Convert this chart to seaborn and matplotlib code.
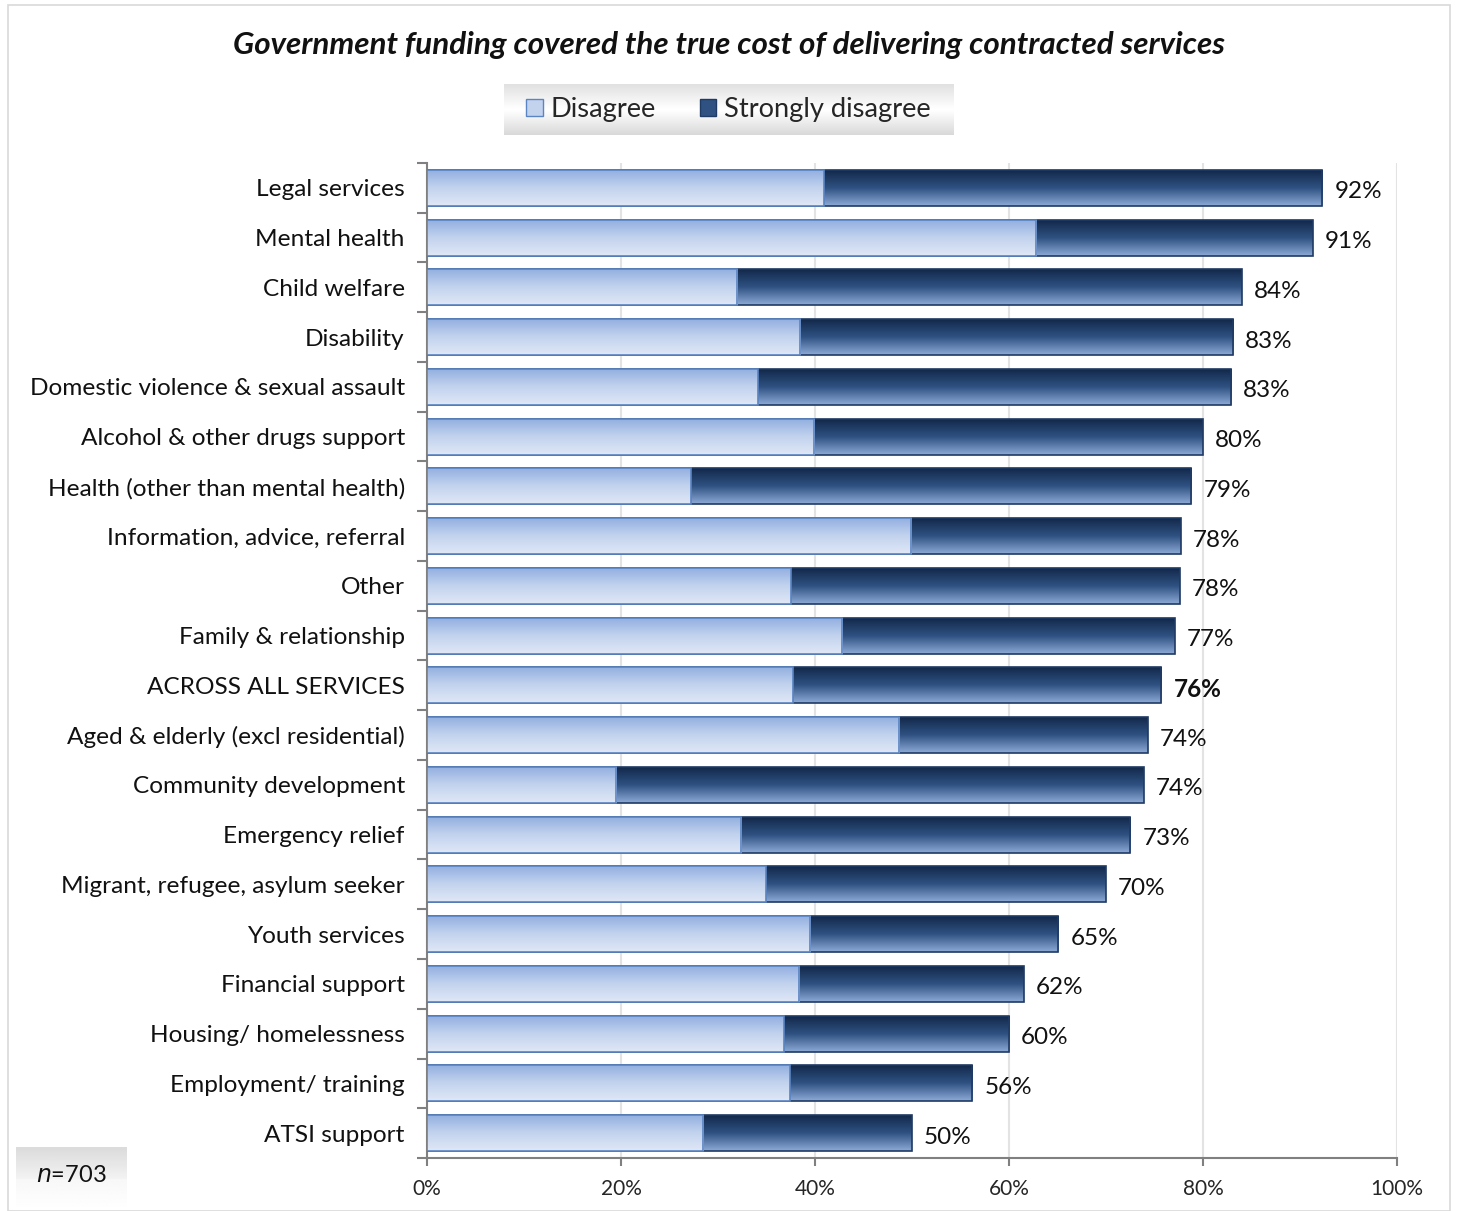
import numpy as np
import pandas as pd
import matplotlib
matplotlib.use("Agg")
import matplotlib.pyplot as plt
import seaborn as sns
from matplotlib.patches import Rectangle, Patch
from matplotlib.colors import LinearSegmentedColormap

categories = [
    "Legal services", "Mental health", "Child welfare", "Disability",
    "Domestic violence & sexual assault", "Alcohol & other drugs support",
    "Health (other than mental health)", "Information, advice, referral",
    "Other", "Family & relationship", "ACROSS ALL SERVICES",
    "Aged & elderly (excl residential)", "Community development",
    "Emergency relief", "Migrant, refugee, asylum seeker", "Youth services",
    "Financial support", "Housing/ homelessness", "Employment/ training",
    "ATSI support",
]
disagree = [40.9, 62.8, 32.0, 38.5, 34.1, 39.9, 27.2, 49.9, 37.5, 42.8,
            37.7, 48.7, 19.5, 32.4, 34.9, 39.5, 38.4, 36.8, 37.4, 28.5]
total = [92.3, 91.3, 84.0, 83.1, 82.9, 80.0, 78.8, 77.7, 77.6, 77.1,
         75.7, 74.3, 73.9, 72.5, 70.0, 65.1, 61.5, 60.0, 56.2, 50.0]
total_labels = ["92%", "91%", "84%", "83%", "83%", "80%", "79%", "78%", "78%",
                "77%", "76%", "74%", "74%", "73%", "70%", "65%", "62%", "60%",
                "56%", "50%"]
x_ticks = [0, 20, 40, 60, 80, 100]
x_tick_labels = ["0%", "20%", "40%", "60%", "80%", "100%"]
title = "Government funding covered the true cost of delivering contracted services"
legend_labels = ["Disagree", "Strongly disagree"]
note = "703"

df = pd.DataFrame({"cat": categories, "disagree": disagree, "total": total})

sns.set_theme(style="white")
plt.rcParams["font.family"] = ["Lato", "DejaVu Sans"]

W, H = 1458, 1211
fig = plt.figure(figsize=(W / 100, H / 100), dpi=100)
ax = fig.add_axes([427 / W, 1 - 1158 / H, (1397 - 427) / W, (1158 - 163) / H])

dis_cmap = LinearSegmentedColormap.from_list("dis", ["#93b0e0", "#c3d3ee", "#e0e8f6"])
str_cmap = LinearSegmentedColormap.from_list("str", ["#13284a", "#2f5283", "#8eaad6"])

sns.barplot(data=df, y="cat", x="total", color="#2f5283", width=0.72,
            edgecolor="#1f3a64", linewidth=1.2, ax=ax, zorder=3, saturation=1)
n_str = len(ax.patches)
sns.barplot(data=df, y="cat", x="disagree", color="#c3d3ee", width=0.72,
            edgecolor="#5a84c2", linewidth=1.2, ax=ax, zorder=5, saturation=1)

grad = np.linspace(0, 1, 256).reshape(-1, 1)
for i, p in enumerate(ax.patches):
    x0, y0 = p.get_x(), p.get_y()
    w, h = p.get_width(), p.get_height()
    cmap = str_cmap if i < n_str else dis_cmap
    z = 2.9 if i < n_str else 4.9
    ax.imshow(grad, cmap=cmap, aspect="auto", extent=[x0, x0 + w, y0 + h, y0],
              origin="upper", zorder=z, interpolation="bilinear")
    p.set_facecolor("none")

ax.set_xlim(0, 100)
ax.set_ylim(len(categories) - 0.5, -0.5)
ax.set_xticks(x_ticks)
ax.set_xticklabels(x_tick_labels, fontsize=15)
ax.set_xlabel("")
ax.set_ylabel("")
ax.tick_params(axis="y", labelsize=17.6, pad=16, length=0)
ax.tick_params(axis="x", pad=9, length=6, width=1.5, color="#808080", direction="out")
ax.set_yticks(range(len(categories)))
ax.set_yticklabels(categories)
ax.set_yticks(np.arange(-0.5, len(categories), 1), minor=True)
ax.tick_params(axis="y", which="minor", length=7, width=1.5, color="#808080", left=True)
ax.tick_params(axis="x", bottom=True)
for t in ax.get_yticklabels():
    t.set_color("#111111")
    t.set_verticalalignment("center_baseline")

ax.grid(axis="x", color="#e3e3e3", linewidth=1.5, zorder=0)
ax.set_axisbelow(True)
for s in ["top", "right"]:
    ax.spines[s].set_visible(False)
for s in ["left", "bottom"]:
    ax.spines[s].set_color("#808080")
    ax.spines[s].set_linewidth(1.5)

for i, (t, lab) in enumerate(zip(total, total_labels)):
    bold = categories[i] == "ACROSS ALL SERVICES"
    ax.text(t + 1.25, i + 0.04, lab, va="center_baseline", ha="left", fontsize=17.5,
            fontweight="bold" if bold else "normal", color="#111111", zorder=6)

fig.text(0.5, 1 - 45 / H, title, ha="center", va="center", fontsize=22.6,
         fontweight="bold", fontstyle="italic", color="#111111")

# legend background gradient
lax = fig.add_axes([504 / W, 1 - 135 / H, (953 - 504) / W, (135 - 84) / H])
bg = np.concatenate([np.linspace(0.88, 1.0, 40), np.linspace(1.0, 0.85, 40)]).reshape(-1, 1)
lax.imshow(bg, cmap="gray", vmin=0, vmax=1, aspect="auto", extent=[0, 1, 0, 1])
lax.set_axis_off()
handles = [Patch(facecolor="#c3d3ee", edgecolor="#5a84c2"),
           Patch(facecolor="#2f5283", edgecolor="#1f3a64")]
lax.legend(handles, legend_labels, loc="center", ncol=2, frameon=False,
           fontsize=19.6, handlelength=0.6, handleheight=0.6, handletextpad=0.3,
           columnspacing=1.6)

# n box
nax = fig.add_axes([16 / W, 0, (127 - 16) / W, (1211 - 1147) / H])
nbg = np.concatenate([np.linspace(0.86, 0.95, 30), np.linspace(0.97, 1.0, 30)]).reshape(-1, 1)
nax.imshow(nbg, cmap="gray", vmin=0, vmax=1, aspect="auto", extent=[0, 1, 0, 1])
nax.set_axis_off()
nax.text(0.5, 0.55, r"$\it{n}$=" + note, ha="center", va="center", fontsize=17,
         color="#111111")

# outer frame
fig.patches.append(Rectangle((8 / W, 0), (1450 - 8) / W, 1 - 5 / H,
                             transform=fig.transFigure, fill=False,
                             edgecolor="#d9d9d9", linewidth=1.2, zorder=0))

fig.savefig("out.png", dpi=100)
